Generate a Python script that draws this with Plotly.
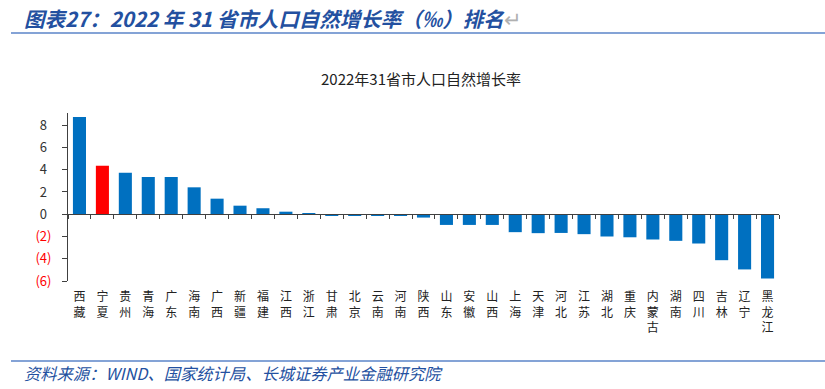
import plotly.graph_objects as go

categories = ["西藏", "宁夏", "贵州", "青海", "广东", "海南", "广西", "新疆", "福建", "江西",
              "浙江", "甘肃", "北京", "云南", "河南", "陕西", "山东", "安徽", "山西", "上海",
              "天津", "河北", "江苏", "湖北", "重庆", "内蒙古", "湖南", "四川", "吉林", "辽宁", "黑龙江"]
values = [8.75, 4.36, 3.73, 3.35, 3.35, 2.42, 1.40, 0.77, 0.54, 0.23,
          0.03, -0.10, -0.10, -0.10, -0.10, -0.30, -0.96, -0.96, -0.96, -1.61,
          -1.70, -1.68, -1.79, -2.00, -2.07, -2.27, -2.39, -2.63, -4.13, -4.96, -5.78]
highlight = "宁夏"

y_tickvals = [-6, -4, -2, 0, 2, 4, 6, 8]
y_ticktext = ["(6)", "(4)", "(2)", "0\u2004", "2\u2004", "4\u2004", "6\u2004", "8\u2004"]

chart_title = "2022年31省市人口自然增长率"
header = "图表27：2022 年 31 省市人口自然增长率（‰）排名"
source = "资料来源：WIND、国家统计局、长城证券产业金融研究院"

W, H = 825, 389
L, R, T, B = 68, 779, 113, 281
Y_MIN, Y_MAX = -6.0, 9.1

def px(x):
    return (x - L) / (R - L)

def py(y):
    return (B - y) / (B - T)

colors = ["#FF0000" if c == highlight else "#0070C0" for c in categories]
xlabels = ["<br>".join(list(c)) for c in categories]

fig = go.Figure()
fig.add_trace(go.Bar(x=categories, y=values, marker=dict(color=colors, line=dict(width=0)),
                     xaxis="x", yaxis="y", hoverinfo="x+y"))
fig.add_trace(go.Scatter(x=categories, y=values, mode="markers", marker=dict(opacity=0),
                         xaxis="x2", yaxis="y", hoverinfo="skip", showlegend=False))

tick_colored = [f"<span style='color:#FF0000'>{t}</span>" if v < 0 else t
                for v, t in zip(y_tickvals, y_ticktext)]

fig.update_layout(
    width=W, height=H,
    margin=dict(l=L, r=W - R, t=T, b=H - B, pad=0, autoexpand=False),
    paper_bgcolor="white", plot_bgcolor="white",
    showlegend=False,
    bargap=0.43,
    font=dict(family="Noto Sans CJK SC, sans-serif", color="#333333", size=12),
    xaxis=dict(type="category", categoryorder="array", categoryarray=categories,
               range=[-0.5, len(categories) - 0.5], automargin=False,
               tickmode="array", tickvals=categories, ticktext=xlabels,
               showline=False, ticks="", showgrid=False, zeroline=False,
               tickfont=dict(size=12, color="#222222"), ticklabelstandoff=7),
    xaxis2=dict(type="category", categoryorder="array", categoryarray=categories,
                overlaying="x", anchor="free", position=(0 - Y_MIN) / (Y_MAX - Y_MIN),
                side="bottom", range=[-0.5, len(categories) - 0.5], automargin=False,
                showline=True, linecolor="#404040", linewidth=1,
                ticks="outside", tickson="boundaries", ticklen=4, tickcolor="#404040",
                showticklabels=False, showgrid=False, zeroline=False),
    yaxis=dict(range=[Y_MIN, Y_MAX], tickmode="array", tickvals=y_tickvals, ticktext=tick_colored,
               showline=True, linecolor="#404040", linewidth=1, automargin=False,
               ticks="outside", ticklen=5, tickcolor="#404040",
               showgrid=False, zeroline=False,
               tickfont=dict(size=13, color="#333333"), ticklabelstandoff=8),
)

fig.add_annotation(text=chart_title, x=px(421), y=py(78), xref="paper", yref="paper",
                   showarrow=False, xanchor="center", yanchor="middle",
                   font=dict(size=15, color="#222222"))
fig.add_annotation(text=f"<b><i>{header}</i></b><span style='color:#B0B0B0'>↵</span>",
                   x=px(22), y=py(18), xref="paper", yref="paper",
                   showarrow=False, xanchor="left", yanchor="middle",
                   font=dict(size=20.5, color="#2350A0"))
fig.add_annotation(text=f"<i>{source}</i>",
                   x=px(22), y=py(373), xref="paper", yref="paper",
                   showarrow=False, xanchor="left", yanchor="middle",
                   font=dict(size=16.3, color="#2350A0"))
fig.add_shape(type="line", xref="paper", yref="paper", x0=px(11), x1=px(825), y0=py(33), y1=py(33),
              line=dict(color="#5B84C8", width=1.5))
fig.add_shape(type="line", xref="paper", yref="paper", x0=px(11), x1=px(825), y0=py(361), y1=py(361),
              line=dict(color="#5B84C8", width=1.5))

fig.write_html("out.html", config={"displayModeBar": False},
               post_script="document.body.style.margin='0';")
